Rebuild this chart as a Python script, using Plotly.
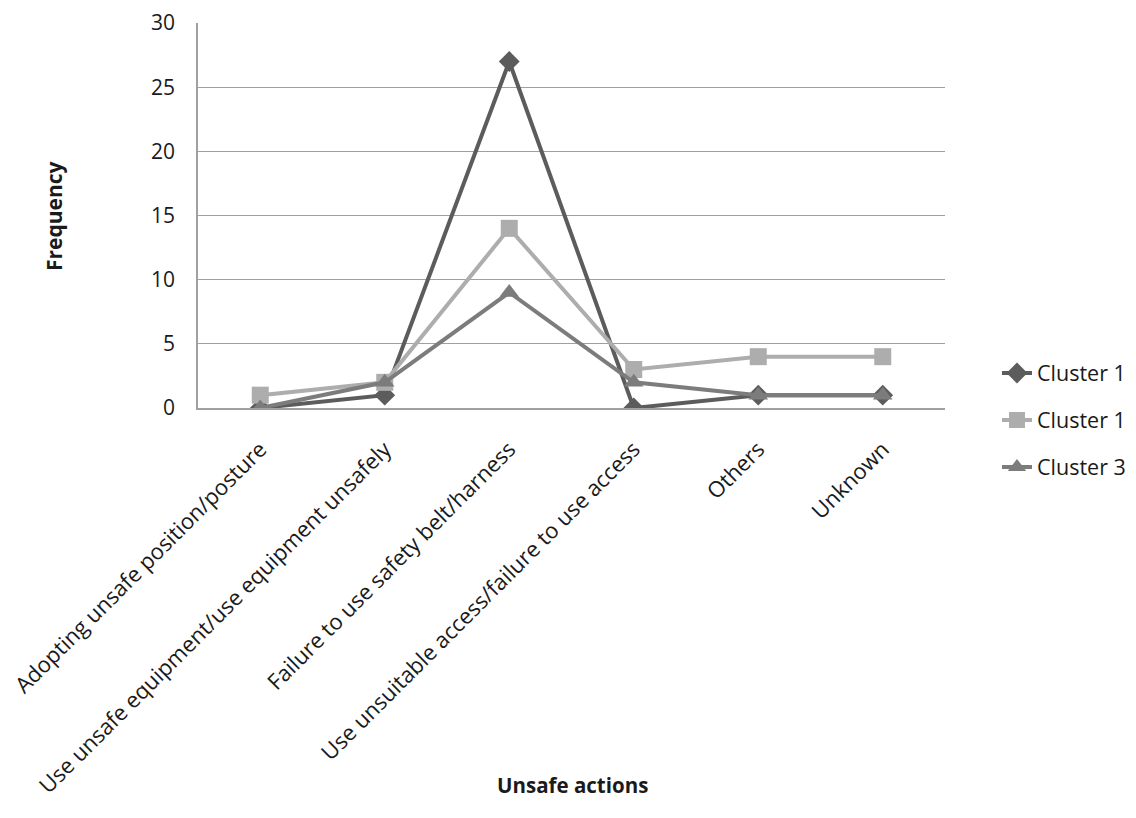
import plotly.graph_objects as go

categories = [
    "Adopting unsafe position/posture",
    "Use unsafe equipment/use equipment unsafely",
    "Failure to use safety belt/harness",
    "Use unsuitable access/failure to use access",
    "Others",
    "Unknown",
]
series_names = ["Cluster 1", "Cluster 1", "Cluster 3"]
cluster1_dark = [0, 1, 27, 0, 1, 1]
cluster1_light = [1, 2, 14, 3, 4, 4]
cluster3 = [0, 2, 9, 2, 1, 1]
y_ticks = [0, 5, 10, 15, 20, 25, 30]

FONT = "Open Sans, Noto Sans, sans-serif"
styles = [
    dict(color="#5c5c5c", symbol="diamond", size=16),
    dict(color="#adadad", symbol="square", size=17),
    dict(color="#7c7c7c", symbol="triangle-up", size=17),
]

OFF = 8  # page body margin
L, T, PW, PH = 190, 15, 747, 385
W, H = 1136, 818

fig = go.Figure()
for i, (name, vals, st) in enumerate(zip(series_names, [cluster1_dark, cluster1_light, cluster3], styles)):
    fig.add_trace(go.Scatter(
        x=categories, y=vals, name=name, mode="lines+markers",
        line=dict(color=st["color"], width=4),
        marker=dict(color=st["color"], symbol=st["symbol"], size=st["size"]),
        legendgroup=f"g{i}",
    ))

def px2paper(px, py):
    return (px - OFF - L) / PW, (T + PH - (py - OFF)) / PH

ax1, ay1 = px2paper(54, 216)
ax2, ay2 = px2paper(572, 785)
lx, ly = px2paper(997, 420)

fig.update_layout(
    template="none",
    width=W, height=H,
    margin=dict(l=L, r=W - L - PW, t=T, b=H - T - PH, autoexpand=False),
    paper_bgcolor="white", plot_bgcolor="white",
    font=dict(family=FONT, color="#1a1a1a", size=21),
    showlegend=True,
    legend=dict(x=lx, xanchor="left", y=ly, yanchor="middle",
                font=dict(size=21.5, color="#1a1a1a"), tracegroupgap=16,
                bgcolor="rgba(0,0,0,0)"),
    xaxis=dict(type="category", tickangle=-45, showgrid=False, automargin=False,
               showline=True, linecolor="#a0a0a0", linewidth=1.5,
               ticks="", tickfont=dict(size=22), range=[-0.5, 5.5],
               ticklabelstandoff=18, ticklabeloverflow="allow"),
    yaxis=dict(range=[0, 30], tickvals=y_ticks, showgrid=True, automargin=False,
               gridcolor="#a0a0a0", gridwidth=1, showline=True,
               linecolor="#a0a0a0", linewidth=1.5, ticks="", zeroline=False,
               tickfont=dict(size=21), ticklabelstandoff=17,
               ticklabeloverflow="allow"),
    annotations=[
        dict(text="<b>Frequency</b>", x=ax1, y=ay1, xref="paper", yref="paper",
             xanchor="center", yanchor="middle",
             showarrow=False, textangle=-90, font=dict(size=21)),
        dict(text="<b>Unsafe actions</b>", x=ax2, y=ay2, xref="paper", yref="paper",
             xanchor="center", yanchor="middle",
             showarrow=False, font=dict(size=20.5)),
    ],
)

fig.write_html("out.html")
